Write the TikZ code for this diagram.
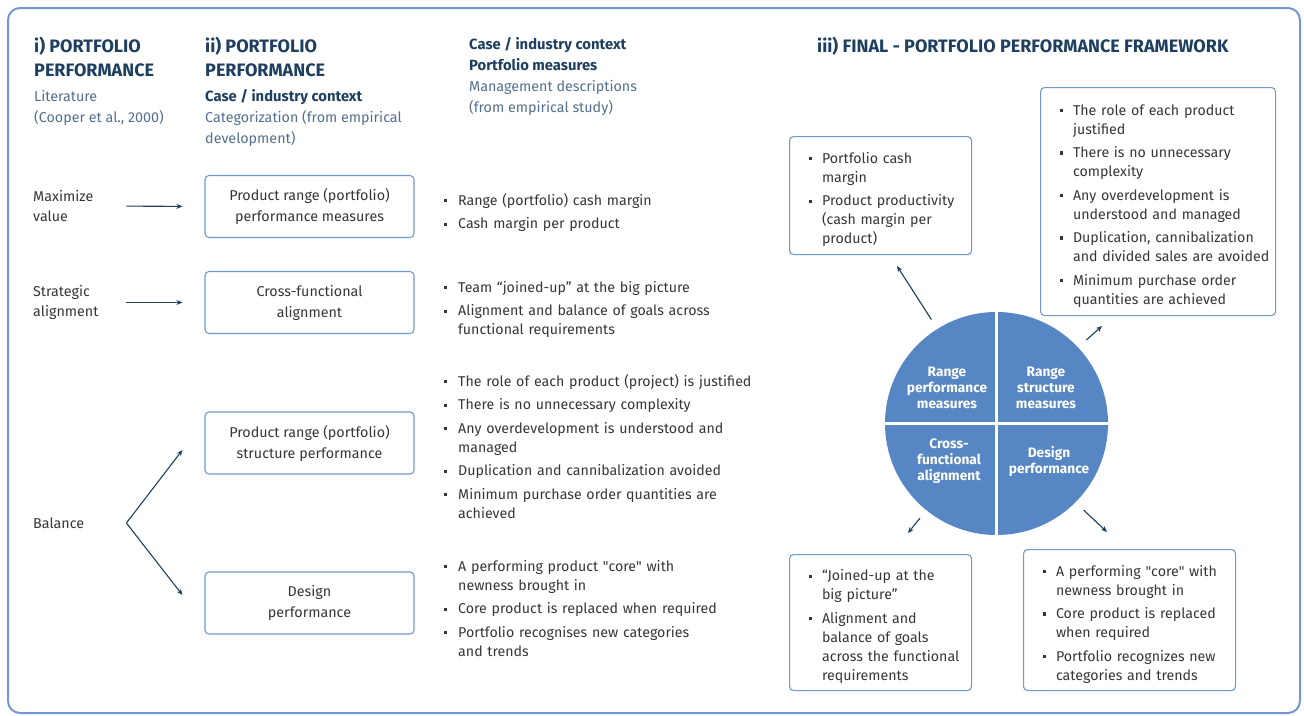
\documentclass[tikz,border=0pt]{standalone}
\usepackage{fontspec}
\setmainfont{Fira Sans}
\usepackage{enumitem}
\usetikzlibrary{arrows.meta}

\definecolor{navy}{HTML}{1E3F5F}
\definecolor{slate}{HTML}{52708E}
\definecolor{ink}{HTML}{363636}
\definecolor{edge}{HTML}{7398CF}
\definecolor{disc}{HTML}{5686C4}

\newcommand{\sqb}{\raisebox{2.8pt}{\rule{3.4pt}{3.4pt}}}
\newcommand{\subhd}[1]{{\fontsize{14.8}{21}\selectfont\bfseries\color{navy}#1}}
\setlist[itemize]{label=\sqb, leftmargin=13pt, labelwidth=13pt, labelsep=0pt, align=left,
  rightmargin=-30pt, itemsep=4.5pt, topsep=0pt, parsep=0pt, partopsep=0pt}

\begin{document}
\begin{tikzpicture}[x=1pt,y=-1pt,
  hdr/.style={font=\fontsize{18}{24}\selectfont\bfseries, text=navy, align=left, inner sep=0pt, anchor=west},
  sub/.style={font=\fontsize{14.3}{21}\selectfont, text=slate, align=left, inner sep=0pt, anchor=west},
  lbl/.style={font=\fontsize{14.3}{20}\selectfont, text=ink, align=left, text width=70pt, inner sep=0pt, anchor=west},
  cat/.style={draw=edge, line width=1.1pt, rounded corners=4pt, minimum width=209pt, minimum height=62pt,
    align=center, font=\fontsize{14.3}{21}\selectfont, text=ink},
  pts/.style={text width=320pt, inner sep=0pt, anchor=north west, align=left, font=\fontsize{14.2}{19}\selectfont, text=ink},
  card/.style={draw=edge, line width=1.1pt, rounded corners=4pt, inner xsep=19.5pt, inner ysep=0pt,
    anchor=north west, align=left, font=\fontsize{14.2}{19}\selectfont, text=ink},
  quad/.style={text=white, font=\fontsize{13.7}{16}\selectfont\bfseries, align=center, inner sep=0pt},
  arr/.style={draw=navy, line width=1.1pt, -{Stealth[length=6pt,width=5pt]}}]
\useasboundingbox (0,0) rectangle (1304,715);
\draw[edge, line width=2pt, rounded corners=12pt] (8,8) rectangle (1300,713);

% column heads
\node[hdr] (headi) at (34,57) {i) PORTFOLIO\\PERFORMANCE};
\node[sub] (srci) at (34,108) {Literature\\(Cooper et al., 2000)};
\node[hdr] (headii) at (205,57) {ii) PORTFOLIO\\PERFORMANCE};
\node[sub] (srcii) at (205,118) {\subhd{Case / industry context}\\Categorization (from empirical\\development)};
\node[sub] (srciii) at (469,76) {\subhd{Case / industry context}\\\subhd{Portfolio measures}\\Management descriptions\\(from empirical study)};
\node[hdr] (headiv) at (817,46) {iii) FINAL - PORTFOLIO PERFORMANCE FRAMEWORK};

% literature goals
\node[lbl] (maxv) at (33,206) {Maximize\\value};
\node[lbl] (strat) at (33,302.5) {Strategic\\alignment};
\node[lbl] (bal) at (33,523) {Balance};

% categories
\node[cat] (rangeperf) at (309.5,206.5) {Product range (portfolio)\\performance measures};
\node[cat] (crossfn) at (309.5,302.5) {Cross-functional\\alignment};
\node[cat] (rangestruct) at (309.5,443) {Product range (portfolio)\\structure performance};
\node[cat] (design) at (309.5,603) {Design\\performance};

\draw[arr, shorten <=23pt, shorten >=22pt] (maxv.east) -- (rangeperf.west);
\draw[arr, shorten <=23pt, shorten >=22pt] (strat.east) -- (crossfn.west);
\coordinate (fork) at ([xshift=23pt]bal.east);
\draw[arr] (fork) -- ([xshift=-22pt,yshift=-7pt]rangestruct.west);
\draw[arr] (fork) -- ([xshift=-22pt,yshift=8pt]design.west);

% management descriptions
\node[pts] (descA) at (443.5,186) {\begin{itemize}[leftmargin=14.5pt,labelwidth=14.5pt]
  \item Range (portfolio) cash margin
  \item Cash margin per product
\end{itemize}};
\node[pts] (descB) at (443.5,273) {\begin{itemize}[leftmargin=14.5pt,labelwidth=14.5pt]
  \item Team ``joined-up'' at the big picture
  \item Alignment and balance of goals across\\functional requirements
\end{itemize}};
\node[pts] (descC) at (443.5,367) {\begin{itemize}[leftmargin=14.5pt,labelwidth=14.5pt]
  \item The role of each product (project) is justified
  \item There is no unnecessary complexity
  \item Any overdevelopment is understood and\\managed
  \item Duplication and cannibalization avoided
  \item Minimum purchase order quantities are\\achieved
\end{itemize}};
\node[pts] (descD) at (443.5,552) {\begin{itemize}[leftmargin=14.5pt,labelwidth=14.5pt]
  \item A performing product \textquotedbl core\textquotedbl{} with\\newness brought in
  \item Core product is replaced when required
  \item Portfolio recognises new categories\\and trends
\end{itemize}};

% framework wheel
\node[circle, fill=disc, minimum size=223pt, inner sep=0pt] (wheel) at (996.5,423.5) {};
\draw[white, line width=2.5pt] (wheel.north) -- (wheel.south);
\draw[white, line width=2.5pt] (wheel.west) -- (wheel.east);
\node[quad] (qrp) at (947,388) {Range\\performance\\measures};
\node[quad] (qrs) at (1046,388) {Range\\structure\\measures};
\node[quad] (qcf) at (949,461) {Cross-\\functional\\alignment};
\node[quad] (qdp) at (1049,461) {Design\\performance};

% framework cards
\node[card, text width=143pt, minimum height=118pt] (cardrp) at (789,136) {\begin{itemize}
  \item Portfolio cash\\margin
  \item Product productivity\\(cash margin per\\product)
\end{itemize}};
\node[card, text width=196pt, minimum height=228pt] (cardrs) at (1040,87) {\begin{itemize}
  \item The role of each product\\justified
  \item There is no unnecessary\\complexity
  \item Any overdevelopment is\\understood and managed
  \item Duplication, cannibalization\\and divided sales are avoided
  \item Minimum purchase order\\quantities are achieved
\end{itemize}};
\node[card, text width=143pt, minimum height=136pt] (cardcf) at (789,554) {\begin{itemize}
  \item ``Joined-up at the\\big picture''
  \item Alignment and\\balance of goals\\across the functional\\requirements
\end{itemize}};
\node[card, text width=173pt, minimum height=141pt] (carddp) at (1023,549) {\begin{itemize}
  \item A performing \textquotedbl core\textquotedbl{} with\\newness brought in
  \item Core product is replaced\\when required
  \item Portfolio recognizes new\\categories and trends
\end{itemize}};

\coordinate (tiprp) at (897,266);
\coordinate (tiprs) at (1102,326);
\coordinate (tipcf) at (908,533);
\coordinate (tipdp) at (1107,532);
\draw[arr, shorten <=11pt] (wheel.122) -- (tiprp);
\draw[arr, shorten <=11pt] (wheel.43) -- (tiprs);
\draw[arr, shorten <=10pt] (wheel.231) -- (tipcf);
\draw[arr, shorten <=11pt] (wheel.315) -- (tipdp);
\end{tikzpicture}
\end{document}
